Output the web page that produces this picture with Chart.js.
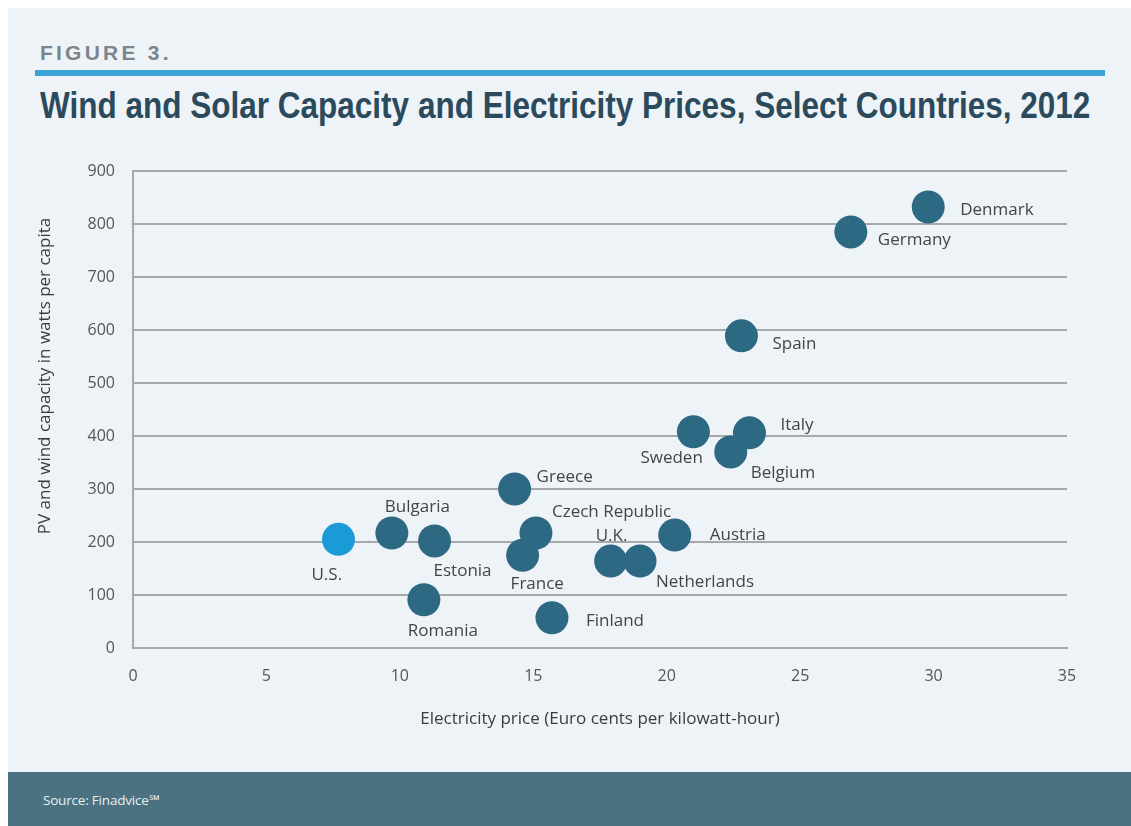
<!DOCTYPE html>
<html>
<head>
<meta charset="utf-8">
<script src="https://cdn.jsdelivr.net/npm/chart.js@4.4.1/dist/chart.umd.min.js"></script>
<style>
  html, body { margin: 0; padding: 0; background: #fff; }
  body { width: 1131px; height: 826px; position: relative; overflow: hidden; }
  .panel { position: absolute; left: 8px; top: 8px; right: 0; bottom: 0; background: #eef3f7; }
  .fig { position: absolute; left: 40px; top: 42px; font: bold 21px/21px "Liberation Sans", Arial, sans-serif; color: #7c858b; white-space: nowrap; }
  .rule { position: absolute; left: 35px; top: 70px; width: 1070px; height: 6px; background: #3ba3d6; }
  .title { position: absolute; left: 40px; top: 87px; font: bold 37px/37px "Liberation Sans", Arial, sans-serif; color: #2b4a5c; white-space: nowrap; transform-origin: 0 0; }
  .chart { position: absolute; left: 8px; top: 140px; width: 1100px; height: 620px; }
  .footer { position: absolute; left: 8px; top: 772px; right: 0; bottom: 0; background: #4a7280; }
  .source { position: absolute; left: 43px; top: 791px; font: 13.5px/18px "Open Sans", sans-serif; color: #e8eef2; letter-spacing: -0.2px; }
</style>
</head>
<body>
<div class="panel"></div>
<div class="fig" id="fig">FIGURE 3.</div>
<div class="rule"></div>
<div class="title" id="title">Wind and Solar Capacity and Electricity Prices, Select Countries, 2012</div>
<div class="chart"><canvas id="c" width="1100" height="620"></canvas></div>
<div class="footer"></div>
<div class="source">Source: Finadvice℠</div>
<script>
// data
const countries = ['U.S.', 'Bulgaria', 'Estonia', 'Romania', 'Greece', 'Czech Republic', 'France', 'Finland',
  'U.K.', 'Netherlands', 'Austria', 'Sweden', 'Belgium', 'Italy', 'Spain', 'Germany', 'Denmark'];
const prices = [7.7, 9.7, 11.3, 10.9, 14.3, 15.1, 14.6, 15.7, 17.9, 19.0, 20.3, 21.0, 22.4, 23.1, 22.8, 26.9, 29.8];
const capacity = [205, 217, 202, 91, 300, 217, 175, 57, 164, 164, 213, 408, 370, 406, 589, 785, 832];
const xTicks = [0, 5, 10, 15, 20, 25, 30, 35];
const yTicks = [0, 100, 200, 300, 400, 500, 600, 700, 800, 900];

const yTitle = 'PV and wind capacity in watts per capita';

// label placement (px offset from point centre to label left/middle)
const labelOffsets = {
  'U.S.': [-27, 36], 'Bulgaria': [-7, -26], 'Estonia': [-1, 30], 'Romania': [-16, 31],
  'Greece': [22, -12], 'Czech Republic': [16, -21], 'France': [-12, 29], 'Finland': [34, 3],
  'U.K.': [-15, -25], 'Netherlands': [16, 21], 'Austria': [35, 0], 'Sweden': [-53, 26],
  'Belgium': [20, 21], 'Italy': [31, -8], 'Spain': [31, 8], 'Germany': [27, 8], 'Denmark': [32, 3]
};

// squeeze the title to the condensed width of the original
const titleEl = document.getElementById('title');
titleEl.style.transform = 'scaleX(' + (1050 / titleEl.scrollWidth) + ')';
// spread "FIGURE 3." out to its original width
const figEl = document.getElementById('fig');
figEl.style.letterSpacing = ((132 - figEl.scrollWidth) / 9) + 'px';

const pointColors = countries.map(c => c === 'U.S.' ? '#1a9bd7' : '#2e6984');
const labelFont = '"Open Sans", sans-serif';

const pointLabels = {
  id: 'pointLabels',
  afterDatasetsDraw(chart) {
    const ctx = chart.ctx;
    const meta = chart.getDatasetMeta(0);
    ctx.save();
    ctx.font = '17px ' + labelFont;
    ctx.fillStyle = '#454545';
    ctx.textAlign = 'left';
    ctx.textBaseline = 'middle';
    meta.data.forEach((pt, i) => {
      const off = labelOffsets[countries[i]] || [20, 0];
      ctx.fillText(countries[i], pt.x + off[0], pt.y + off[1]);
    });
    // y axis title sits a little above the middle of the axis in the original
    ctx.translate(37, 236);
    ctx.rotate(-Math.PI / 2);
    ctx.textAlign = 'center';
    ctx.fillStyle = '#3c3c3c';
    ctx.fillText(yTitle, 0, 0);
    ctx.restore();
  }
};

new Chart(document.getElementById('c'), {
  type: 'scatter',
  data: {
    datasets: [{
      data: prices.map((x, i) => ({ x: x, y: capacity[i] })),
      backgroundColor: pointColors,
      borderWidth: 0,
      pointRadius: 16.5,
      pointHoverRadius: 16.5
    }]
  },
  options: {
    responsive: false,
    animation: false,
    layout: { padding: { top: 31, right: 41, left: 0, bottom: 27 } },
    plugins: { legend: { display: false }, tooltip: { enabled: false } },
    scales: {
      x: {
        type: 'linear',
        min: 0, max: 35,
        afterBuildTicks: s => { s.ticks = xTicks.map(v => ({ value: v })); },
        afterFit: s => { s.height = 85; },
        grid: { display: false },
        border: { display: true, color: '#a6a9ab', width: 2 },
        ticks: { color: '#555', font: { family: 'Open Sans', size: 16 }, padding: 11 },
        title: { display: true, text: 'Electricity price (Euro cents per kilowatt-hour)', color: '#3c3c3c',
          font: { family: 'Open Sans', size: 17 }, padding: { top: 10, bottom: 4 } }
      },
      y: {
        type: 'linear',
        min: 0, max: 900,
        afterBuildTicks: s => { s.ticks = yTicks.map(v => ({ value: v })); },
        afterFit: s => { s.width = 125; },
        grid: { color: '#a6a9ab', lineWidth: 2, drawTicks: false },
        border: { display: true, color: '#a6a9ab', width: 2 },
        ticks: { color: '#555', font: { family: 'Open Sans', size: 16 }, padding: 18 },
        title: { display: false }
      }
    }
  },
  plugins: [pointLabels]
});
</script>
</body>
</html>
